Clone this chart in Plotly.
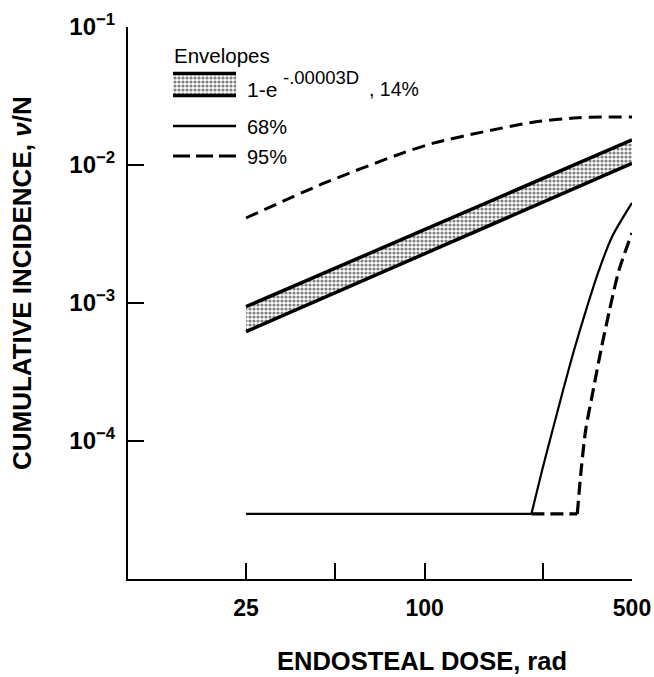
import numpy as np
import plotly.graph_objects as go

# ---------------- data ----------------
dose_band = [25, 50, 100, 250, 500]
band_upper = [9.4e-4, 1.79e-3, 3.41e-3, 7.99e-3, 1.52e-2]
band_lower = [6.2e-4, 1.19e-3, 2.27e-3, 5.38e-3, 1.03e-2]

dose_95_upper = [25, 46, 86, 107, 158, 232, 330, 500]
inc_95_upper = [4.13e-3, 7.41e-3, 1.24e-2, 1.44e-2, 1.74e-2, 2.04e-2, 2.2e-2, 2.23e-2]

# lower envelopes: flat part up to the corner, then the rising branch
dose_68_lower = [25, 229, 249, 270, 293, 319, 350, 387, 428, 500]
inc_68_lower = [2.96e-5, 2.96e-5, 6.17e-5, 1.2e-4, 2.34e-4, 4.56e-4, 8.89e-4, 1.73e-3, 3.01e-3, 5.31e-3]

dose_95_lower = [229, 327, 337, 349, 370, 393, 420, 452, 500]
inc_95_lower = [2.96e-5, 2.96e-5, 6.17e-5, 1.2e-4, 2.34e-4, 4.56e-4, 8.89e-4, 1.73e-3, 3.21e-3]

x_tickvals = [25, 100, 500]
x_ticktext = ["25", "100", "500"]
x_minor_ticks = [50, 250]
y_tickvals = [1e-4, 1e-3, 1e-2, 1e-1]
y_ticktext = ["10<sup>\u22124</sup>", "10<sup>\u22123</sup>", "10<sup>\u22122</sup>", "10<sup>\u22121</sup>"]

x_title = "ENDOSTEAL DOSE, rad"
y_title = "CUMULATIVE INCIDENCE, <i>\u03bd</i>/N"
legend_title = "Envelopes"
legend_band = ["1-e", "-.00003D", ", 14%"]
legend_68 = "68%"
legend_95 = "95%"

# ---------------- layout geometry ----------------
W, H = 654, 677
L, R, T, B = 128, 632, 27, 579
FONT = "Liberation Sans, Arial, sans-serif"


def px(x):
    return (x - L) / (R - L)


def py(y):
    return (B - y) / (B - T)


pattern = dict(shape=".", fgcolor="#000000", bgcolor="#ffffff", size=4, solidity=0.5)

fig = go.Figure()

# band (shaded envelope)
fig.add_trace(go.Scatter(x=dose_band, y=band_lower, mode="lines",
                         line=dict(color="black", width=3.5), showlegend=False))
fig.add_trace(go.Scatter(x=dose_band, y=band_upper, mode="lines", fill="tonexty",
                         fillpattern=pattern, fillcolor="rgba(0,0,0,0)",
                         line=dict(color="black", width=3.5), showlegend=False))

# 95% upper
fig.add_trace(go.Scatter(x=dose_95_upper, y=inc_95_upper, mode="lines",
                         line=dict(color="black", width=3, dash="13px,7px", shape="spline", smoothing=0.8),
                         showlegend=False))

# 95% lower: flat dashed part + rising branch
fig.add_trace(go.Scatter(x=dose_95_lower[:2], y=inc_95_lower[:2], mode="lines",
                         line=dict(color="black", width=3.2, dash="13px,6px"),
                         showlegend=False))
fig.add_trace(go.Scatter(x=dose_95_lower[1:], y=inc_95_lower[1:], mode="lines",
                         line=dict(color="black", width=3.2, dash="13px,6px", shape="spline", smoothing=0.8),
                         showlegend=False))

# 68% lower: flat part + rising branch
fig.add_trace(go.Scatter(x=dose_68_lower[:2], y=inc_68_lower[:2], mode="lines",
                         line=dict(color="black", width=2.2), showlegend=False))
fig.add_trace(go.Scatter(x=dose_68_lower[1:], y=inc_68_lower[1:], mode="lines",
                         line=dict(color="black", width=2.2, shape="spline", smoothing=0.8),
                         showlegend=False))

# legend swatch (pattern box) on a hidden helper axis
fig.add_trace(go.Scatter(x=[0, 1, 1, 0, 0], y=[0, 0, 1, 1, 0], mode="lines", fill="toself",
                         fillpattern=pattern, fillcolor="rgba(0,0,0,0)",
                         line=dict(width=0), xaxis="x2", yaxis="y2", showlegend=False,
                         hoverinfo="skip"))

axis_common = dict(type="log", showgrid=False, zeroline=False, showline=True,
                   linecolor="black", linewidth=2, ticks="inside", ticklen=16,
                   tickwidth=2, tickcolor="black", mirror=False, automargin=False)

fig.update_layout(
    width=W, height=H,
    margin=dict(l=L, r=W - R, t=T, b=H - B),
    paper_bgcolor="white", plot_bgcolor="white",
    font=dict(family=FONT, color="black"),
    xaxis=dict(axis_common, range=[1, np.log10(500) + 1e-6], tickvals=x_tickvals,
               ticktext=x_ticktext, tickfont=dict(size=23, weight="bold"), ticklabelstandoff=7,
               minor=dict(tickvals=x_minor_ticks, ticks="inside", ticklen=16, tickwidth=2,
                          tickcolor="black", showgrid=False)),
    yaxis=dict(axis_common, range=[-5, -1 + 1e-6], tickvals=y_tickvals,
               ticktext=y_ticktext, tickfont=dict(size=24, weight="bold"), ticklabelstandoff=6),
    xaxis2=dict(domain=[px(173), px(236)], range=[0, 1], visible=False, anchor="y2"),
    yaxis2=dict(domain=[py(97), py(72)], range=[0, 1], visible=False, anchor="x2"),
    showlegend=False,
)

# axis titles as annotations (the x title is offset right of the plot centre)
fig.add_annotation(x=px(422), y=py(661), xref="paper", yref="paper", showarrow=False,
                   text=x_title, font=dict(size=25.5, weight="bold"), borderpad=0,
                   xanchor="center", yanchor="middle")
fig.add_annotation(x=px(22), y=py(283), xref="paper", yref="paper", showarrow=False,
                   text=y_title, textangle=-90,
                   font=dict(size=26, weight="bold"), xanchor="center", yanchor="middle")

# legend texts
fig.add_annotation(x=px(172), y=py(55), xref="paper", yref="paper", showarrow=False,
                   text=legend_title, font=dict(size=20.5), xanchor="left", yanchor="middle")
fig.add_annotation(x=px(245), y=py(89), xref="paper", yref="paper", showarrow=False,
                   text=legend_band[0], font=dict(size=21), xanchor="left", yanchor="middle")
fig.add_annotation(x=px(281), y=py(78), xref="paper", yref="paper", showarrow=False,
                   text=legend_band[1], font=dict(size=18.5), xanchor="left", yanchor="middle")
fig.add_annotation(x=px(367), y=py(89), xref="paper", yref="paper", showarrow=False,
                   text=legend_band[2], font=dict(size=19.5), xanchor="left", yanchor="middle")
fig.add_annotation(x=px(245), y=py(127), xref="paper", yref="paper", showarrow=False,
                   text=legend_68, font=dict(size=20), xanchor="left", yanchor="middle")
fig.add_annotation(x=px(245), y=py(157), xref="paper", yref="paper", showarrow=False,
                   text=legend_95, font=dict(size=20), xanchor="left", yanchor="middle")

# legend line samples
fig.add_shape(type="line", xref="paper", yref="paper", x0=px(173), x1=px(236),
              y0=py(73.5), y1=py(73.5), line=dict(color="black", width=3.5))
fig.add_shape(type="line", xref="paper", yref="paper", x0=px(173), x1=px(236),
              y0=py(95.5), y1=py(95.5), line=dict(color="black", width=3.5))
fig.add_shape(type="line", xref="paper", yref="paper", x0=px(173), x1=px(236),
              y0=py(126), y1=py(126), line=dict(color="black", width=2.5))
fig.add_shape(type="line", xref="paper", yref="paper", x0=px(173), x1=px(236),
              y0=py(156), y1=py(156), line=dict(color="black", width=3.2, dash="17px,6px"))

fig.write_html("out.html")
